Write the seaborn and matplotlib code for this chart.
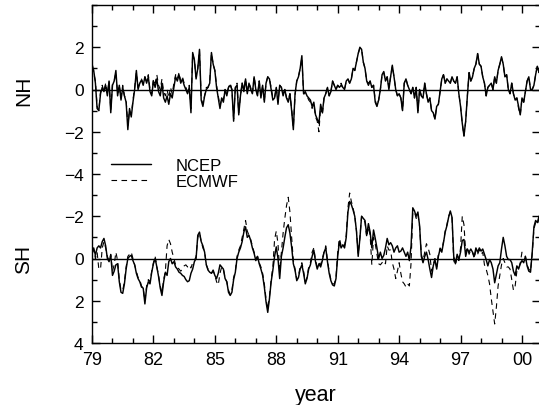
import numpy as np
import matplotlib
matplotlib.use("Agg")
import matplotlib.pyplot as plt
import matplotlib.transforms as mtransforms
import seaborn as sns

# Monthly index values, Jan 1979 onwards
start_year = 1979

nh_ncep = [
    1.2, 0.9, 0.3, -0.9, -1.0, -0.2, 0.1, -0.1, 0.2, -0.3, 0.4, -1.1,
    0.2, 0.4, 0.9, -0.3, 0.2, -0.5, 0.1, -0.3, -0.6, -1.9, -0.9, -1.3,
    -0.6, 0.0, 0.9, 0.0, 0.3, 0.45, 0.2, 0.6, 0.3, 0.6, -0.1, -0.3,
    0.4, 0.1, 0.5, -0.1, -0.3, 0.3, -0.4, -0.6, -0.3, -0.7, -0.2, -0.4,
    0.1, 0.6, 0.4, 0.7, 0.3, 0.5, 0.2, 0.0, -0.2, 0.1, -1.1, 1.75,
    1.4, 0.5, 1.0, 1.9, -0.5, -0.8, -0.3, 0.0, 0.1, 0.3, 1.75, 1.2,
    0.9, 0.1, -0.4, -0.9, -0.4, -0.6, 0.0, -0.3, 0.1, 0.2, 0.0, -1.5,
    0.1, 0.2, -1.2, -0.3, 0.3, -0.1, 0.5, -0.2, 0.3, 0.0, -0.2, 0.6,
    0.0, -0.3, 0.4, -0.4, 0.2, -0.6, 0.3, 0.6, 0.5, 0.0, -0.5, -0.4,
    0.1, -0.7, 0.2, 0.1, -0.3, 0.0, -0.4, -0.6, -0.2, -1.0, -1.9, -0.2,
    0.4, 0.6, 1.0, 1.6, -0.2, -0.1, -0.3, -0.4, -0.5, -0.8, -0.6, -1.2,
    -1.4, -1.6, -0.7, -1.1, -0.4, -0.2, 0.1, -0.3, -0.1, 0.4, 0.2, 0.0,
    0.2, 0.1, 0.2, 0.1, 0.0, 0.4, 0.5, 0.3, 0.5, 1.0, 0.9, 1.3,
    1.7, 2.0, 1.9, 1.3, 1.0, 0.4, 0.2, 0.4, 0.1, 0.2, -0.6, -0.8,
    -0.5, 0.0, 0.7, 0.85, 0.4, 0.6, 0.0, 0.6, 1.15, 0.6, 0.0, -0.3,
    -0.2, -0.4, -1.0, 0.3, 0.5, 0.2, 0.0, -0.2, 0.1, -0.4, 0.1, -1.1,
    0.0, -0.3, -0.4, 0.3, -0.2, -0.6, -0.4, -1.0, -1.1, -1.4, -0.8, -0.7,
    -0.1, 0.5, 0.7, 0.3, 0.5, 0.4, 0.3, 0.6, 0.4, 0.3, 0.6, -0.2,
    -0.8, -1.6, -2.2, -1.5, -0.3, 0.8, 0.4, 0.6, 1.0, 1.2, 1.7, 1.2,
    1.1, 0.6, 0.3, -0.3, 0.1, 0.2, 0.3, 0.0, 0.6, 0.3, 0.9, 1.2,
    1.55, 1.2, 0.6, 0.7, 0.0, -0.2, 0.3, -0.2, -0.5, -0.4, -0.8, -1.2,
    -0.4, -0.6, -0.1, 0.4, 0.6, 0.0, 0.0, 0.2, 0.7, 1.1, 0.8, 1.2,
]

nh_ecmwf = [
    1.1, 0.8, 0.4, -0.8, -1.0, -0.1, 0.2, -0.1, 0.3, -0.2, 0.4, -1.0,
    0.3, 0.4, 0.8, -0.2, 0.2, -0.4, 0.2, -0.3, -0.5, -1.7, -1.0, -1.2,
    -0.5, 0.1, 0.8, 0.1, 0.3, 0.5, 0.3, 0.6, 0.4, 0.7, 0.0, -0.2,
    0.5, 0.3, 0.7, 0.2, 0.0, 0.5, -0.1, -0.3, 0.0, -0.4, 0.1, -0.2,
    0.3, 0.7, 0.5, 0.8, 0.4, 0.6, 0.3, 0.1, -0.1, 0.2, -0.9, 1.7,
    1.4, 0.6, 1.0, 1.85, -0.4, -0.7, -0.3, 0.1, 0.1, 0.4, 1.7, 1.2,
    0.9, 0.2, -0.3, -0.8, -0.4, -0.5, 0.0, -0.2, 0.1, 0.3, 0.0, -1.4,
    0.1, 0.3, -1.1, -0.3, 0.3, 0.0, 0.5, -0.1, 0.3, 0.1, -0.2, 0.6,
    0.1, -0.3, 0.4, -0.3, 0.2, -0.5, 0.3, 0.6, 0.5, 0.1, -0.4, -0.4,
    0.1, -0.6, 0.2, 0.1, -0.2, 0.0, -0.4, -0.5, -0.2, -0.9, -1.8, -0.3,
    0.4, 0.6, 1.0, 1.5, -0.2, -0.2, -0.3, -0.5, -0.6, -0.9, -0.7, -1.3,
    -1.5, -2.0, -0.8, -1.2, -0.4, -0.2, 0.1, -0.3, -0.1, 0.4, 0.2, 0.0,
    0.2, 0.1, 0.3, 0.1, 0.0, 0.4, 0.5, 0.3, 0.5, 1.0, 0.9, 1.3,
    1.7, 1.95, 1.9, 1.3, 1.0, 0.4, 0.3, 0.4, 0.1, 0.2, -0.5, -0.8,
    -0.5, 0.0, 0.7, 0.8, 0.4, 0.6, 0.1, 0.6, 1.1, 0.6, 0.0, -0.3,
    -0.2, -0.4, -1.0, 0.3, 0.5, 0.2, 0.0, -0.2, 0.1, -0.4, 0.1, -1.0,
    0.0, -0.3, -0.4, 0.3, -0.2, -0.6, -0.4, -1.0, -1.1, -1.4, -0.8, -0.7,
    -0.1, 0.5, 0.7, 0.3, 0.5, 0.4, 0.3, 0.6, 0.4, 0.3, 0.6, -0.2,
    -0.8, -1.6, -2.2, -1.5, -0.3, 0.8, 0.4, 0.6, 1.0, 1.2, 1.7, 1.2,
    1.1, 0.6, 0.3, -0.3, 0.1, 0.2, 0.3, 0.0, 0.6, 0.3, 0.9, 1.2,
    1.5, 1.2, 0.6, 0.7, 0.0, -0.2, 0.3, -0.2, -0.5, -0.4, -0.9, -1.2,
    -0.4, -0.6, -0.1, 0.4, 0.6, 0.0, 0.0, 0.2, 0.7, 1.1, 0.8, 1.2,
]

sh_ncep = [
    -0.3, -0.5, -0.15, -0.5, -0.6, -0.5, -0.8, -0.95, -0.6, 0.0, 0.15, -0.15,
    0.8, 0.6, 0.3, 0.25, 1.1, 1.6, 1.65, 1.2, 0.5, 0.0, -0.1, -0.15,
    0.1, 0.3, 0.7, 0.95, 1.1, 1.35, 1.4, 2.15, 1.4, 1.1, 1.2, 0.65,
    0.25, 0.0, 0.4, 0.85, 1.4, 1.75, 1.1, 0.65, 0.8, 0.15, 0.0, 0.25,
    0.15, 0.4, 0.5, 0.65, 0.7, 0.8, 0.85, 1.0, 1.1, 1.05, 0.7, 0.5,
    0.15, 0.0, -1.1, -1.25, -0.8, -0.6, -0.3, 0.3, 0.55, 0.65, 0.7, 0.55,
    0.8, 0.95, 0.7, 0.3, 0.4, 0.5, 0.95, 1.1, 1.6, 1.75, 1.6, 1.0,
    0.65, 0.0, -0.3, -0.5, -0.8, -1.25, -1.5, -1.0, -1.1, -0.85, -0.5, -0.25,
    0.1, -0.1, 0.25, 0.5, 0.8, 1.35, 2.05, 2.55, 1.9, 1.1, 0.55, -0.1,
    -0.55, 0.0, 0.95, -0.1, -0.5, -1.0, -1.45, -1.6, -1.2, -0.55, 0.25, 0.55,
    1.05, 0.9, 0.5, 0.3, 0.7, 1.2, 0.95, 0.5, 0.3, -0.1, -0.4, 0.15,
    0.5, 0.25, 0.4, 0.1, -0.3, -0.5, 0.15, 0.7, 1.05, 1.25, 1.3, 0.95,
    -0.1, -0.8, -0.5, -0.65, -0.5, -1.0, -2.2, -2.7, -2.55, -2.3, -2.0, -1.3,
    -0.1, -0.95, -2.0, -1.9, -1.8, -1.1, -1.65, -1.25, -0.5, -1.35, -0.95, -0.5,
    0.0, -0.3, 0.0, -0.15, -0.5, -0.95, -0.65, -0.75, -0.6, -0.3, -0.5, -0.6,
    -0.3, -0.35, -0.5, -0.3, -0.1, -0.3, 0.1, -0.6, -2.4, -2.25, -2.0, -2.2,
    -1.55, -0.1, 0.2, -0.1, -0.3, 0.05, 0.5, 0.9, 0.35, 0.05, 0.5, -0.1,
    -0.45, -0.3, -0.75, -1.25, -1.55, -1.95, -2.25, -1.95, -0.1, 0.25, -0.2, 0.05,
    -0.3, -0.85, -0.9, -0.1, -0.45, -0.3, -0.45, -0.3, -0.1, -0.5, -0.3, -0.5,
    -0.35, -0.45, -0.2, 0.05, 0.35, 0.05, 0.2, 0.5, 1.15, 0.75, 0.35, 0.2,
    -0.45, -1.0, -0.6, -0.1, 0.05, 0.05, 0.2, 0.6, 0.8, 0.35, 0.5, 0.25,
    0.1, 0.2, -0.1, 0.35, 0.6, 0.65, -0.3, -1.5, -1.8, -1.7, -2.0, -1.9,
]

sh_ecmwf = [
    -0.2, -0.4, 0.0, -0.3, 0.5, 0.5, -0.5, -0.8, -0.5, -0.1, 0.1, -0.2,
    0.6, 0.3, -0.3, 0.1, 1.0, 1.5, 1.5, 1.1, 0.4, -0.1, -0.2, -0.3,
    0.0, 0.3, 0.6, 0.9, 1.0, 1.3, 1.4, 2.0, 1.3, 1.0, 1.1, 0.6,
    0.2, -0.1, 0.4, 0.8, 1.3, 1.6, 1.0, 0.6, -0.6, -0.9, -0.7, -0.3,
    0.0, 0.3, 0.4, 0.5, 0.6, 0.5, 0.35, 0.3, 0.4, 0.3, 0.45, 0.2,
    0.1, -0.1, -1.0, -1.2, -0.8, -0.5, -0.3, 0.3, 0.5, 0.6, 0.7, 0.6,
    0.8, 1.1, 1.25, 0.7, 0.4, 0.5, 0.9, 1.1, 1.5, 1.7, 1.5, 0.9,
    0.6, -0.1, -0.4, -0.6, -1.0, -1.4, -1.8, -1.3, -1.1, -0.9, -0.6, -0.3,
    0.0, -0.1, 0.2, 0.4, 0.7, 1.2, 1.9, 2.4, 1.8, 1.0, 0.4, -0.9,
    -1.3, -0.7, 0.6, -0.3, -1.2, -1.9, -2.5, -2.9, -2.2, -1.0, 0.1, 0.5,
    1.0, 0.8, 0.4, 0.2, 0.6, 1.1, 0.9, 0.4, 0.2, -0.3, -0.5, 0.1,
    0.4, 0.2, 0.3, 0.0, -0.3, -0.6, 0.1, 0.6, 1.0, 1.2, 1.2, 0.9,
    -0.3, -0.95, -0.6, -0.7, -0.6, -1.1, -2.4, -3.1, -2.7, -2.4, -2.0, -1.3,
    -0.2, -1.0, -2.0, -1.9, -1.7, -1.0, -1.5, -1.1, 0.3, -1.0, -0.7, -0.2,
    0.25, 0.3, 0.2, 0.1, 0.25, -0.6, -0.4, -0.4, 0.2, 0.5, 0.95, 0.6,
    0.2, 0.7, 1.1, 1.2, 1.35, 1.2, 1.3, 0.2, -2.2, -2.2, -1.9, -2.1,
    -1.5, -0.2, 0.1, -0.3, -0.7, -0.5, -0.2, 0.6, 0.3, 0.0, 0.4, -0.2,
    -0.5, -0.4, -0.8, -1.3, -1.6, -2.0, -2.2, -1.9, 0.1, 0.3, -0.1, 0.1,
    -0.5, -2.0, -1.6, -0.3, -0.5, -0.2, -0.4, -0.3, 0.0, -0.4, -0.2, -0.4,
    -0.2, -0.3, 0.3, 0.5, 0.8, 1.2, 1.9, 2.5, 3.1, 2.3, 1.3, 0.8,
    0.3, 0.0, 0.2, 0.4, 0.4, 0.5, 1.0, 1.5, 1.3, 0.6, 0.5, 0.2,
    -0.3, -0.2, -0.1, 0.3, 0.5, 0.6, -0.2, -1.4, -1.7, -1.6, -1.9, -1.8,
]

year_ticks = [1979, 1982, 1985, 1988, 1991, 1994, 1997, 2000]
year_labels = ["79", "82", "85", "88", "91", "94", "97", "00"]
# Stacked panels share one axis: SH runs downward around 4, NH upward around 12
index_ticks = [0, 2, 4, 6, 8, 10, 12, 14]
index_labels = ["4", "2", "0", "\u22122", "\u22124", "\u22122", "0", "2"]
nh_base = 12
sh_base = 4

years = start_year + np.arange(len(nh_ncep)) / 12.0

sns.set_theme(style="ticks", rc={
    "axes.edgecolor": "black", "xtick.color": "black", "ytick.color": "black",
    "text.color": "black", "axes.labelcolor": "black", "axes.linewidth": 1.0,
})
plt.rcParams["font.family"] = ["Liberation Sans", "DejaVu Sans"]

fig = plt.figure(figsize=(5.39, 4.06), dpi=100)
ax = fig.add_axes([92 / 539, 1 - 344 / 406, 448 / 539, 338 / 406])

dash = (0, (5, 4))
sns.lineplot(x=years, y=nh_base + np.asarray(nh_ncep), color="black", lw=1.05,
             ax=ax, label="NCEP", zorder=3)
sns.lineplot(x=years, y=nh_base + np.asarray(nh_ecmwf), color="black", lw=0.8,
             linestyle=dash, ax=ax, label="ECMWF", zorder=2)
sns.lineplot(x=years, y=sh_base - np.asarray(sh_ncep), color="black", lw=1.05,
             ax=ax, legend=False, zorder=3)
sns.lineplot(x=years, y=sh_base - np.asarray(sh_ecmwf), color="black", lw=0.8,
             linestyle=dash, ax=ax, legend=False, zorder=2)

ax.axhline(nh_base, color="black", lw=1.0, zorder=1)
ax.axhline(sh_base, color="black", lw=1.0, zorder=1)

ax.set_xlim(1979, 2000.88)
ax.set_ylim(0, 16)
ax.set_xticks(year_ticks)
ax.set_xticklabels(year_labels, fontsize=13)
ax.set_xticks(np.arange(1980, 2001), minor=True)
ax.set_yticks(index_ticks)
ax.set_yticklabels(index_labels, fontsize=12.5)
ax.set_yticks(np.arange(0, 17), minor=True)
ax.tick_params(which="both", direction="in", top=True, right=True, width=1.0)
ax.tick_params(which="major", length=6)
ax.tick_params(which="minor", length=3.5)
ax.tick_params(axis="x", which="major", pad=6)
ax.tick_params(axis="y", which="major", pad=6)

ax.set_xlabel("year", fontsize=15.5, labelpad=11)
ax.set_ylabel("")

trans = mtransforms.blended_transform_factory(ax.transAxes, ax.transData)
ax.text(-0.152, nh_base, "NH", rotation=90, ha="center", va="center",
        fontsize=15, transform=trans)
ax.text(-0.152, sh_base, "SH", rotation=90, ha="center", va="center",
        fontsize=15, transform=trans)

ax.legend(loc="upper left", bbox_to_anchor=(0.042, 0.548), frameon=False,
          fontsize=12, handlelength=2.4, handletextpad=1.5,
          labelspacing=0.05, borderpad=0, borderaxespad=0)

fig.savefig("out.png", dpi=100)
